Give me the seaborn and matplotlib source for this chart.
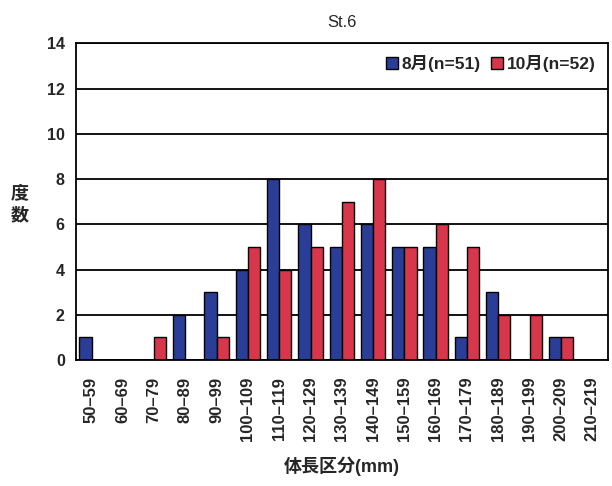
import pandas as pd
import matplotlib
matplotlib.use("Agg")
import matplotlib.pyplot as plt
import seaborn as sns

# 体長区分ごとの個体数 (St.6)
categories = ["50–59", "60–69", "70–79", "80–89", "90–99", "100–109", "110–119",
              "120–129", "130–139", "140–149", "150–159", "160–169", "170–179",
              "180–189", "190–199", "200–209", "210–219"]
aug_counts = [1, 0, 0, 2, 3, 4, 8, 6, 5, 6, 5, 5, 1, 3, 0, 1, 0]
oct_counts = [0, 0, 1, 0, 1, 5, 4, 5, 7, 8, 5, 6, 5, 2, 2, 1, 0]
series_names = ["8月(n=51)", "10月(n=52)"]
y_ticks = list(range(0, 15, 2))

sns.set_style("white")
plt.rcParams['font.family'] = ['Liberation Sans', 'Noto Sans CJK JP', 'DejaVu Sans']

df = pd.DataFrame({
    "区分": categories * 2,
    "度数": aug_counts + oct_counts,
    "月": [series_names[0]] * len(categories) + [series_names[1]] * len(categories),
})

fig = plt.figure(figsize=(6.12, 4.86), dpi=100)
ax = fig.add_axes([0.124, 0.259, 0.869, 0.652])

palette = {series_names[0]: "#2a3e98", series_names[1]: "#d8364b"}
sns.barplot(data=df, x="区分", y="度数", hue="月", palette=palette,
            order=categories, hue_order=series_names, width=0.78,
            edgecolor="black", linewidth=1.0, saturation=1, ax=ax)

ax.set_ylim(0, 14)
ax.set_xlim(-0.5, len(categories) - 0.5)
ax.set_yticks(y_ticks)
ax.set_yticklabels([str(v) for v in y_ticks], fontsize=11.5, fontweight="bold")
ax.yaxis.grid(True, color="black", linewidth=1.3)
ax.set_axisbelow(True)
ax.tick_params(axis="y", length=0, pad=8)

# 区分の境界に内向きの小さい目盛り
ax.set_xticks([i + 0.5 for i in range(len(categories) - 1)], minor=True)
ax.tick_params(axis="x", which="minor", direction="in", length=4, width=1.2, color="black")
ax.tick_params(axis="x", which="major", length=0, pad=12)
ax.set_xticklabels(categories, rotation=90, fontsize=12, fontweight="bold")

for s in ax.spines.values():
    s.set_color("black")
    s.set_linewidth(1.3)

ax.set_title("St.6", fontsize=12, pad=12)
ax.set_xlabel("体長区分(mm)", fontsize=13, fontweight="bold", labelpad=11)
ax.set_ylabel("度\n数", fontsize=13, fontweight="bold", rotation=0,
              labelpad=0, linespacing=1.4)
ax.yaxis.set_label_coords(-0.105, 0.43)

ax.legend(loc="upper right", frameon=False, ncol=2,
          prop={"size": 12.5, "weight": "bold"},
          handlelength=0.7, handleheight=0.7, handletextpad=0.2,
          columnspacing=0.6, borderaxespad=0.3)

fig.savefig("out.png", dpi=100)
